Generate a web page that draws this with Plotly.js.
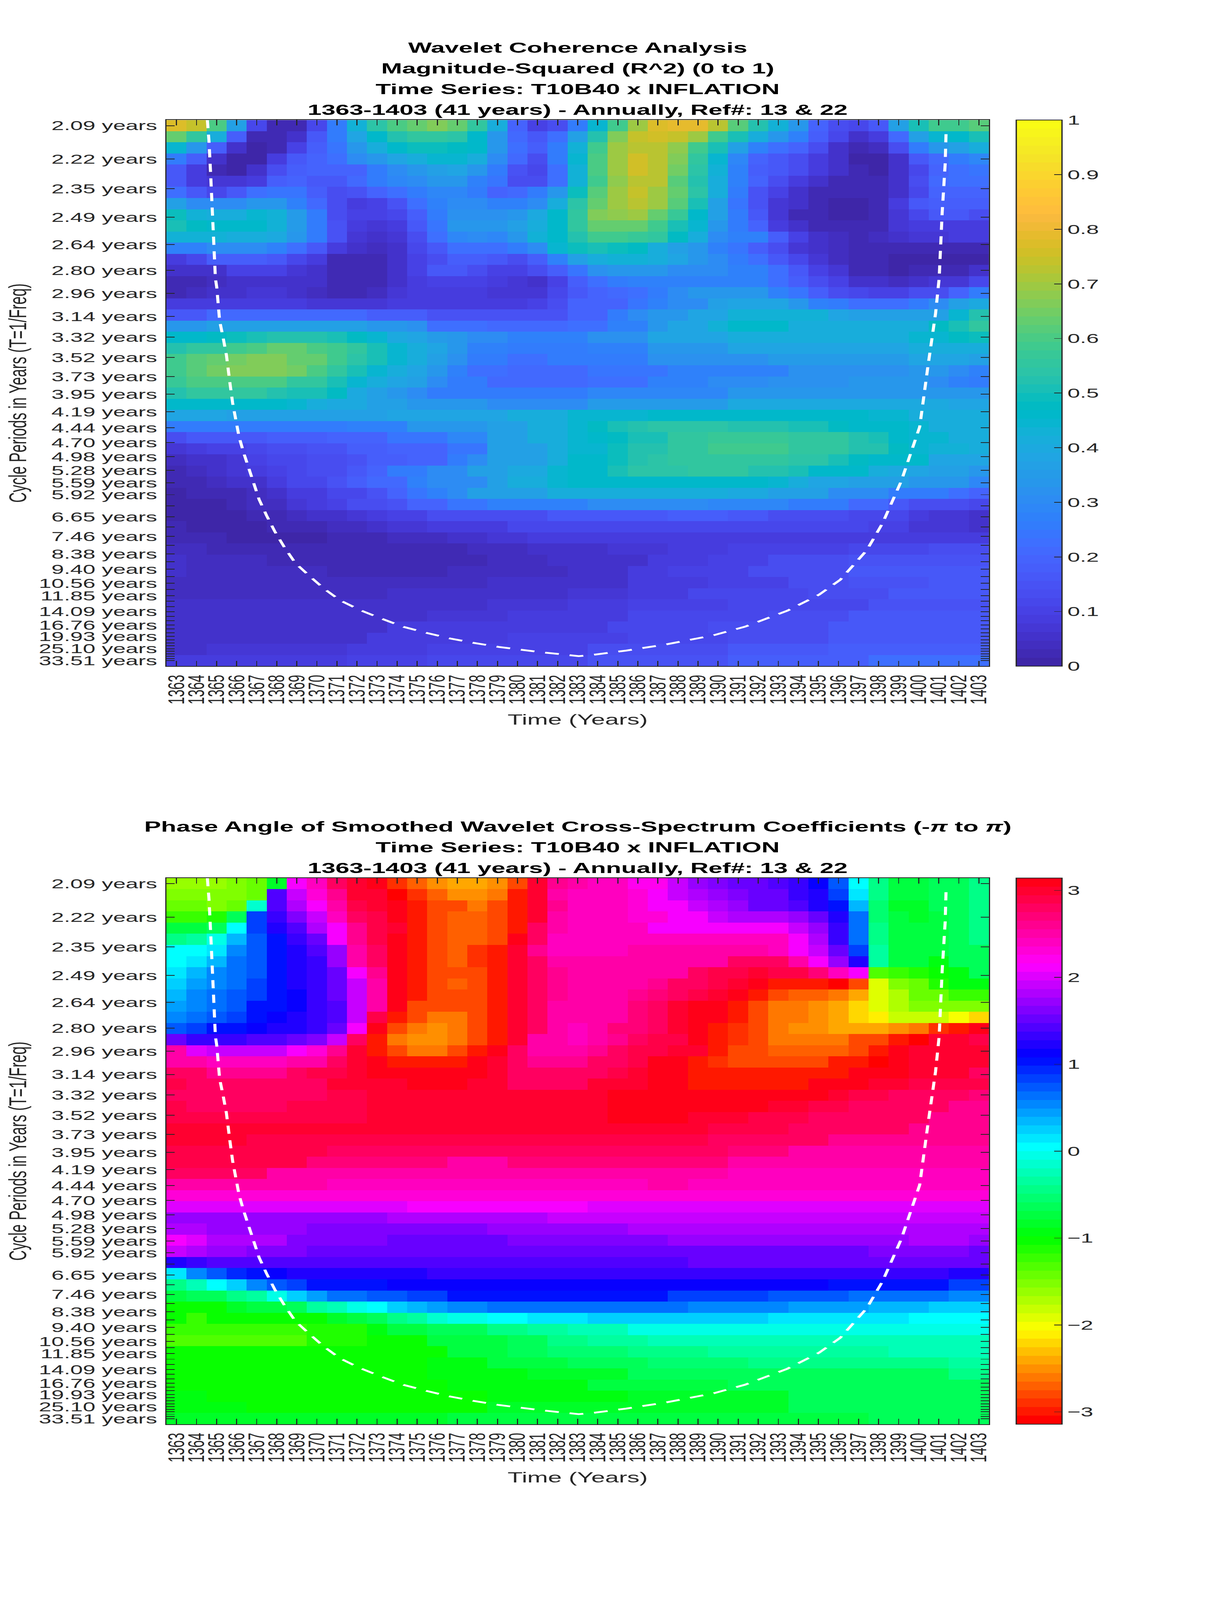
<!DOCTYPE html>
<html><head><meta charset="utf-8"><script src="https://cdn.plot.ly/plotly-3.0.1.min.js"></script>
<style>html,body{margin:0;padding:0;background:#fff;overflow:hidden}#c{width:2803px;height:6252px;transform-origin:0 0}</style></head><body><div id="c"></div>
<script>
// Chart values
const years=[1363,1364,1365,1366,1367,1368,1369,1370,1371,1372,1373,1374,1375,1376,1377,1378,1379,1380,1381,1382,1383,1384,1385,1386,1387,1388,1389,1390,1391,1392,1393,1394,1395,1396,1397,1398,1399,1400,1401,1402,1403];
const periods=[2.09,2.22,2.35,2.49,2.64,2.80,2.96,3.14,3.32,3.52,3.73,3.95,4.19,4.44,4.70,4.98,5.28,5.59,5.92,6.27,6.65,7.04,7.46,7.91,8.38,8.88,9.40,9.96,10.56,11.19,11.85,12.55,13.30,14.09,14.93,15.82,16.76,17.76,18.81,19.93,21.12,22.37,23.70,25.10,26.60,28.18,29.86,31.63,33.51];
const unlabelledPeriods=[6.27,7.04,7.91,8.88,9.96,11.19,12.55,13.30,14.93,15.82,17.76,18.81,21.12,22.37,23.70,26.60,28.18,29.86,31.63];
// Cone of influence: year and row position along the dashed curve
const coiYear=[1364.54,1364.62,1364.70,1364.78,1364.86,1364.94,1365.01,1365.15,1365.32,1365.49,1365.67,1365.80,1365.96,1366.12,1366.35,1366.61,1366.83,1367.12,1367.49,1367.90,1368.38,1368.93,1369.63,1370.35,1371.16,1372.13,1373.18,1374.31,1375.52,1376.65,1377.78,1379.07,1381.2,1383.05,1383.71,1385.42,1387.40,1389.77,1391.34,1393.46,1395.04,1396.09,1397.41,1398.2,1399.13,1400.05,1400.45,1400.84,1401.02,1401.17,1401.32,1401.37];
const coiRow=[-0.5,1.38,4.23,7.1,10.0,13.7,14.54,17.5,18.97,20.6,23.17,24.89,26.41,27.93,29.36,30.79,32.12,33.55,34.98,36.41,37.83,39.26,40.41,41.54,42.60,43.45,44.21,44.97,45.54,46.02,46.40,46.78,47.25,47.6,47.50,47.1,46.55,45.73,44.96,43.52,42.08,40.75,38.1,35.67,31.9,27.03,21.73,16.86,13.7,7.82,3.43,0.21];
// Magnitude-squared coherence in percent: one row per period, one column per year
const coherencePct=[
[78,74,60,37,11,2,3,11,25,43,54,60,63,66,64,55,42,20,10,13,25,45,59,70,77,79,79,72,61,52,43,34,20,13,11,16,36,51,58,59,61],
[63,55,42,18,3,2,6,16,25,38,46,52,55,55,54,46,34,21,17,22,37,53,67,74,75,74,69,59,50,41,34,27,18,11,5,9,21,36,45,46,50],
[45,34,18,5,1,3,10,18,24,34,41,46,49,49,47,46,34,22,18,26,43,58,70,73,73,68,59,50,37,27,22,20,13,6,2,4,13,26,33,37,41],
[26,18,6,1,1,9,16,20,23,30,34,39,42,44,44,41,31,21,14,25,44,60,70,76,73,67,55,44,29,20,17,14,9,5,1,1,6,16,21,26,29],
[17,9,3,1,5,13,18,20,20,20,25,31,34,37,38,34,25,15,12,22,43,60,70,76,72,65,54,43,27,18,16,13,9,5,2,1,5,12,19,23,24],
[16,9,7,7,9,18,20,16,17,21,25,29,31,34,34,28,24,13,13,23,43,58,68,73,72,62,53,42,28,20,14,9,6,3,2,2,5,13,21,22,22],
[22,17,12,17,22,24,24,18,13,15,19,23,26,29,29,26,20,21,25,34,49,61,70,74,70,63,54,41,25,15,10,6,3,2,2,2,5,12,19,19,19],
[37,30,31,30,33,34,28,21,13,9,10,15,22,28,31,31,28,27,30,42,54,63,70,72,69,61,50,37,24,15,7,5,2,1,1,3,9,17,18,18,18],
[49,43,42,42,44,43,35,25,14,10,10,12,18,25,32,32,32,34,40,46,56,66,68,69,63,57,46,37,25,17,7,3,2,1,1,3,7,12,17,17,14],
[51,47,46,46,46,43,35,25,15,9,7,9,17,24,33,34,33,37,41,46,56,63,64,64,58,51,44,34,25,19,9,6,3,2,2,3,7,9,9,9,9],
[43,43,43,42,42,40,33,25,15,7,6,7,14,22,29,31,29,33,43,46,53,58,58,57,55,48,41,31,28,27,18,10,6,4,3,4,5,7,7,9,9],
[28,28,30,30,31,28,22,17,9,5,4,6,12,17,22,23,22,25,30,44,49,50,49,47,42,37,33,28,24,18,13,7,5,4,3,3,3,3,3,2,2],
[9,12,18,18,18,16,12,8,3,2,2,5,10,14,18,18,16,14,18,27,36,42,43,43,42,39,34,30,25,23,17,12,7,4,2,2,1,1,1,1,1],
[5,5,6,10,10,10,7,5,2,2,2,5,10,16,16,13,10,10,13,18,24,32,33,33,33,30,30,30,27,27,23,17,10,7,3,3,1,2,2,2,5],
[3,3,4,6,6,6,5,5,2,2,3,5,8,10,10,10,8,7,6,10,18,23,25,27,28,28,28,28,28,28,23,18,14,10,6,5,4,5,7,7,12],
[3,4,5,5,7,7,5,4,3,3,4,7,8,9,9,8,7,7,7,12,17,20,21,23,26,31,33,34,34,33,27,24,18,13,12,10,10,13,14,19,26],
[8,8,8,9,9,9,9,7,7,7,7,9,9,9,9,9,9,9,10,13,19,19,19,24,27,30,30,36,39,39,39,33,28,25,23,23,22,25,31,36,40],
[17,17,21,21,21,21,21,21,21,21,18,18,18,15,15,15,15,15,15,15,20,20,25,30,33,33,38,38,43,43,43,43,43,38,36,36,36,37,37,45,52],
[33,34,36,36,37,37,37,37,37,37,34,34,32,23,23,23,21,21,21,21,23,23,28,28,33,38,38,43,46,46,46,42,41,41,41,42,42,42,47,50,55],
[46,46,48,49,50,53,53,52,50,47,45,40,38,35,33,30,30,27,27,27,27,32,32,32,38,38,38,38,42,42,42,42,42,42,42,42,42,45,45,47,49],
[53,55,56,58,60,63,63,60,58,55,50,44,41,38,33,27,27,25,25,25,25,28,28,28,33,33,33,33,38,38,38,38,38,38,38,38,38,41,41,41,41],
[59,61,63,65,67,67,63,63,58,54,50,45,41,36,32,25,25,23,23,26,26,26,26,26,32,32,32,32,32,32,35,35,35,35,35,35,35,38,38,38,36],
[59,61,65,66,67,67,65,60,56,50,45,41,38,34,28,23,23,21,21,21,21,24,24,24,24,28,28,28,28,28,28,32,32,32,32,32,32,33,33,30,28],
[57,60,60,60,60,60,55,55,51,45,42,38,36,31,25,25,21,21,21,21,21,23,23,23,27,27,27,30,30,30,32,32,32,32,33,33,33,33,31,28,25],
[52,55,55,55,55,52,50,50,47,40,37,34,30,26,26,26,26,26,26,26,26,29,29,29,29,29,29,29,33,33,33,33,33,33,33,33,33,33,33,33,33],
[46,46,46,46,46,46,44,42,40,40,36,36,33,33,33,33,30,30,30,30,30,35,35,35,35,35,35,35,40,40,40,40,40,40,40,40,40,40,40,38,38],
[39,39,39,36,36,36,36,37,37,37,37,38,38,38,38,38,38,41,41,41,44,44,44,44,46,46,46,46,46,46,46,46,46,46,46,44,44,42,42,42,42],
[25,25,25,25,25,25,25,25,25,28,28,28,33,33,33,33,37,37,42,42,45,47,50,52,54,54,54,54,53,53,53,50,50,48,46,46,46,45,42,42,42],
[13,17,17,17,17,18,18,18,20,20,20,24,24,24,29,29,36,36,41,41,45,46,48,50,50,55,55,57,57,57,57,55,55,55,52,50,46,45,44,41,41],
[7,9,10,10,12,13,13,15,15,18,18,20,20,20,24,24,36,36,36,41,45,45,49,52,52,55,55,58,58,58,58,55,55,55,52,52,47,45,43,43,41],
[4,5,6,7,10,11,12,14,14,15,18,18,20,20,25,30,36,36,36,41,46,46,49,53,54,55,55,55,55,55,55,54,54,50,48,46,46,46,39,39,39],
[3,4,5,7,9,10,12,14,14,16,20,25,25,31,31,36,36,40,40,44,46,46,50,54,54,54,55,55,55,53,53,50,46,46,46,41,40,39,36,36,33],
[2,3,4,6,6,8,11,12,15,18,21,21,27,31,31,31,37,41,41,44,46,46,46,46,46,46,46,46,46,46,44,41,38,38,36,36,36,33,33,33,29],
[1,2,2,3,4,6,9,9,11,12,15,20,24,27,31,36,36,36,36,41,41,41,41,41,41,41,41,41,40,40,36,36,36,31,31,31,25,25,25,22,19],
[1,1,1,3,4,4,7,9,10,13,13,15,19,19,24,24,28,28,28,28,28,31,31,31,31,31,31,29,29,29,29,25,25,25,21,21,16,13,13,13,11],
[1,1,1,1,2,3,4,5,6,7,9,10,10,13,13,13,13,14,14,17,17,17,17,17,17,18,18,18,17,17,13,13,13,13,11,11,11,9,7,7,5],
[2,1,1,1,1,2,3,3,4,4,5,7,7,8,8,9,9,11,11,11,12,12,12,12,12,12,12,12,12,12,12,12,12,12,12,10,10,7,7,7,5],
[3,3,3,1,1,1,1,1,3,3,3,4,4,4,5,5,7,7,8,8,8,8,8,9,9,9,9,9,9,9,9,9,9,9,9,9,9,9,9,9,9],
[4,4,3,3,3,3,2,2,2,2,2,3,3,3,3,4,4,4,5,5,6,6,7,7,7,9,9,9,10,10,10,10,10,10,12,12,12,12,13,13,13],
[5,4,4,4,4,3,3,3,3,3,3,3,3,3,3,3,4,4,4,5,5,6,6,6,8,8,8,10,10,10,13,13,13,13,15,15,15,15,15,15,15],
[5,4,4,4,4,4,4,4,3,3,3,3,3,3,4,4,4,4,4,4,5,6,6,8,8,10,10,10,10,13,13,13,13,13,16,16,16,16,16,16,16],
[4,4,4,4,4,4,4,4,4,4,4,4,4,4,4,4,5,5,5,6,6,6,6,9,9,9,9,10,10,10,10,13,13,13,15,15,15,15,17,17,17],
[4,4,4,4,4,4,4,4,4,4,4,5,5,5,5,5,5,6,6,6,7,7,7,9,9,9,11,11,11,11,11,11,14,14,14,14,16,16,16,16,16],
[5,5,5,5,5,5,5,5,5,5,5,5,6,6,6,6,7,7,7,7,8,8,8,10,10,10,10,10,12,12,12,12,12,12,12,15,15,15,15,15,15],
[5,5,5,5,5,5,5,5,6,6,6,6,6,7,7,7,7,8,8,8,9,9,9,11,11,11,12,12,12,12,13,13,13,13,16,16,16,16,16,16,16],
[5,5,5,5,5,5,6,6,6,6,6,8,8,8,8,8,8,8,9,9,9,9,11,11,11,11,11,13,13,13,13,13,13,16,16,16,16,16,16,16,16],
[5,5,5,5,5,6,6,6,6,6,8,8,8,8,8,8,8,10,10,10,10,10,10,12,12,12,12,12,14,14,14,14,14,17,17,17,17,17,17,17,17],
[6,6,7,7,7,7,7,7,7,9,9,9,9,10,10,10,10,10,10,10,10,13,13,13,13,13,13,13,16,16,16,16,16,18,18,18,18,18,18,18,18],
[8,8,8,8,9,9,9,9,9,10,10,10,10,12,12,12,12,12,12,12,12,15,15,15,15,15,15,15,18,18,18,18,18,18,18,22,22,22,22,22,22]
];
// Phase angle in hundredths of a radian: one row per period, one column per year
const phaseCentirad=[
[-160,-160,-160,-148,-140,-87,209,244,279,297,314,-293,-272,-253,-244,-244,-251,-279,295,262,255,237,237,218,218,192,175,163,155,155,140,129,113,72,3,-49,-77,-77,-59,-59,-40],
[-150,-150,-157,-148,-138,145,190,230,262,295,300,-305,-286,-270,-255,-255,-265,-300,295,248,241,241,241,229,209,196,184,169,161,150,150,135,122,81,19,-49,-77,-77,-66,-66,-46],
[-145,-145,-150,-140,-12,145,184,209,255,288,295,314,-295,-276,-276,-262,-276,-300,295,262,241,241,241,232,209,209,190,180,168,157,157,145,125,105,38,-52,-85,-85,-66,-66,-49],
[-122,-122,-112,-66,84,131,161,190,236,281,288,314,-295,-281,-268,-268,-281,-300,295,255,241,241,241,229,229,209,209,190,184,184,184,175,150,125,60,-52,-77,-85,-77,-66,-49],
[-77,-77,-59,9,81,125,145,184,209,262,288,300,-300,-281,-268,-268,-281,-300,281,248,238,238,238,238,215,215,209,209,209,209,209,196,175,131,67,-49,-77,-77,-77,-66,-49],
[-46,-35,-8,38,72,105,128,157,209,262,288,314,-295,-281,-268,-268,-284,305,275,245,245,245,245,245,245,245,236,236,236,236,236,209,184,137,67,-49,-77,-77,-77,-66,-46],
[0,0,19,52,72,105,122,142,175,248,281,305,-295,-281,-268,-288,-300,300,262,241,241,241,241,248,248,248,248,248,248,248,236,215,190,154,84,-33,-70,-70,-77,-66,-66],
[3,19,38,60,72,100,118,131,169,248,281,305,-295,-281,-268,-288,-300,300,275,248,248,248,248,248,248,255,255,255,275,275,275,248,209,169,118,-33,-77,-77,-95,-66,-66],
[19,32,52,65,72,100,118,131,157,209,262,305,-295,-281,-281,-281,-300,300,275,262,248,248,248,248,255,255,275,288,288,295,288,288,268,236,215,-131,-122,-112,-100,-95,-66],
[29,42,52,67,84,100,118,134,154,196,255,305,-295,-281,-268,-281,-300,300,275,262,248,248,248,255,262,275,281,288,300,314,-303,-303,-303,-314,-281,-195,-150,-138,-112,-95,-95],
[32,52,60,78,84,105,115,128,150,193,255,305,-295,-276,-276,-281,-300,300,275,262,248,248,248,262,268,281,288,295,314,-295,-281,-268,-268,-258,-244,-195,-172,-145,-138,-125,-118],
[42,52,67,78,100,105,115,128,147,193,255,314,-281,-276,-276,-281,-300,300,275,255,255,255,255,268,275,295,305,310,-300,-281,-265,-262,-248,-241,-220,-195,-172,-157,-150,-150,-150],
[52,65,72,84,105,112,118,128,145,187,288,-295,-276,-265,-265,-276,-295,300,281,255,255,255,255,268,275,295,305,314,-295,-281,-265,-258,-248,-241,-220,-209,-186,-178,-186,-201,-222],
[72,84,100,105,112,118,118,131,157,209,305,-276,-265,-255,-265,-276,-295,300,275,255,245,255,268,268,275,295,305,-300,-292,-281,-265,-255,-255,-245,-245,-245,-255,-265,-288,-300,314],
[154,137,131,131,142,142,150,166,196,275,-295,-262,-255,-255,-265,-276,-300,295,255,248,241,248,262,275,288,288,314,-300,-292,-281,-265,-265,-265,-265,-276,-284,-300,-314,300,300,288],
[248,203,190,190,190,190,209,229,262,300,-303,-276,-262,-262,-276,-295,314,281,255,255,255,262,275,288,288,300,300,-295,-281,-281,-271,-271,-271,-271,-284,-295,314,300,300,295,295],
[255,248,236,236,236,236,248,255,281,300,314,-303,-295,-295,-303,314,300,275,262,262,262,275,281,288,314,314,-300,-292,-284,-284,-284,-284,-284,-298,-298,-308,314,300,300,295,295],
[275,275,262,262,262,262,275,288,288,300,305,305,314,314,314,310,295,281,275,275,275,275,288,300,308,314,-300,-295,-295,-295,-295,-295,-295,-303,314,314,308,295,295,295,281],
[288,275,275,275,275,275,281,281,295,295,300,300,311,311,311,300,300,281,281,281,281,295,295,300,314,314,-303,-303,-303,-303,-303,-303,314,314,308,295,295,288,288,288,288],
[281,281,281,281,281,281,281,281,288,288,295,295,295,295,295,295,295,295,295,295,295,295,305,305,305,314,314,314,314,314,314,305,305,300,288,288,281,281,281,281,268],
[288,275,275,275,275,275,288,288,288,288,295,295,295,295,295,295,295,295,295,295,295,295,305,305,305,305,305,305,305,305,295,295,288,288,275,275,275,275,275,262,262],
[288,288,288,288,288,288,288,288,288,288,295,295,295,295,295,295,295,295,295,295,295,295,305,305,305,305,295,295,295,288,288,288,275,275,275,275,275,275,262,262,262],
[295,295,295,295,295,295,295,295,295,295,295,295,295,295,295,295,295,295,295,295,295,295,295,295,295,295,295,288,288,288,288,281,281,281,275,275,275,262,262,262,262],
[298,298,298,298,288,288,288,288,288,288,288,288,288,288,288,288,288,288,288,288,288,288,288,288,288,288,288,281,281,281,275,275,275,262,262,262,262,262,262,262,262],
[288,288,288,288,288,288,288,288,275,275,275,275,275,275,275,275,275,275,275,275,275,275,275,275,275,275,275,275,268,268,268,255,255,255,255,255,255,255,255,255,255],
[285,285,285,285,285,285,285,268,268,268,268,268,268,268,255,255,255,268,268,268,268,268,268,268,268,268,268,268,255,255,255,255,255,255,248,248,248,248,248,248,248],
[275,275,275,275,275,255,255,255,255,255,255,255,248,248,248,248,248,248,248,248,255,255,255,255,255,255,255,255,245,245,245,245,245,245,245,245,245,245,245,245,245],
[255,255,255,255,255,255,255,255,241,241,241,241,241,241,241,241,241,241,241,241,241,241,241,241,255,255,241,241,241,241,241,241,241,241,241,241,241,241,241,241,241],
[232,232,232,232,232,232,232,232,232,232,232,232,232,232,232,232,232,232,232,232,232,232,232,232,232,232,232,232,232,232,232,232,232,232,232,232,232,232,232,232,232],
[198,198,198,198,198,198,198,198,198,198,198,198,209,209,209,209,209,209,209,209,209,206,206,206,206,206,206,206,206,206,206,206,206,206,206,206,206,206,206,206,206],
[174,174,174,174,174,174,174,174,174,174,174,184,184,184,184,184,184,184,184,193,193,193,193,193,193,193,193,193,193,193,193,193,193,193,193,193,193,193,193,193,193],
[178,178,169,169,169,169,169,163,163,163,163,163,163,163,163,163,169,169,169,169,169,169,169,181,181,181,181,181,181,181,181,181,181,181,181,181,181,181,181,181,181],
[209,198,181,181,181,181,163,163,163,163,163,154,154,154,154,154,154,163,163,163,163,163,163,163,163,174,174,174,174,174,174,174,174,174,174,174,174,181,181,181,169],
[196,184,169,169,163,163,163,150,150,150,150,150,150,150,150,150,150,150,150,150,150,150,150,150,150,150,157,157,157,157,157,157,157,157,157,163,163,163,163,163,157],
[118,128,142,142,142,142,142,142,142,142,142,142,142,142,142,142,142,142,142,142,142,142,142,142,142,142,150,150,150,150,150,150,150,150,150,150,150,150,150,150,150],
[15,52,78,96,105,112,122,122,122,122,122,122,122,128,128,128,128,128,128,128,128,128,128,128,128,128,128,128,128,128,128,128,128,128,128,128,128,128,128,122,122],
[-49,-26,0,23,52,72,88,105,105,105,105,110,110,110,110,110,110,110,110,110,110,110,110,110,110,110,110,110,110,110,110,110,110,105,105,105,105,100,100,84,84],
[-70,-66,-59,-49,-33,-8,23,42,60,67,78,78,88,88,105,105,105,105,105,105,105,105,105,105,105,88,88,88,88,88,78,78,78,78,67,60,60,60,60,52,52],
[-100,-100,-100,-85,-77,-70,-59,-38,-26,-5,7,23,32,45,52,52,62,62,62,62,62,62,62,62,62,62,52,52,52,52,52,42,42,42,42,32,32,32,23,23,23],
[-100,-118,-105,-105,-105,-105,-100,-100,-85,-70,-59,-49,-33,-15,-8,-8,0,0,10,10,10,23,23,23,23,23,23,23,23,23,10,10,10,10,10,10,10,0,0,0,0],
[-125,-125,-125,-125,-125,-125,-125,-112,-112,-112,-95,-70,-70,-59,-59,-59,-45,-45,-33,-33,-24,-24,-24,-8,-8,-8,-8,-8,-8,-8,-8,-8,-8,-8,-8,-8,-8,-8,-8,-8,-8],
[-128,-128,-128,-128,-128,-128,-128,-112,-112,-112,-100,-100,-100,-77,-77,-77,-77,-59,-59,-45,-45,-33,-33,-33,-29,-29,-29,-29,-29,-29,-29,-20,-20,-20,-20,-20,-20,-20,-20,-20,-20],
[-105,-105,-105,-105,-105,-105,-105,-105,-105,-105,-105,-105,-100,-100,-77,-77,-77,-66,-66,-52,-52,-52,-52,-45,-45,-45,-45,-38,-38,-38,-38,-38,-38,-38,-38,-38,-29,-29,-29,-29,-29],
[-100,-100,-105,-105,-105,-105,-105,-105,-105,-105,-105,-105,-105,-95,-95,-95,-77,-77,-77,-77,-66,-66,-66,-66,-52,-52,-52,-52,-52,-45,-45,-45,-45,-45,-45,-45,-45,-45,-45,-38,-38],
[-102,-102,-102,-102,-102,-102,-102,-102,-102,-102,-102,-102,-102,-95,-95,-95,-95,-95,-85,-85,-85,-85,-85,-66,-66,-66,-66,-66,-66,-66,-59,-59,-59,-59,-59,-59,-59,-59,-59,-49,-49],
[-100,-100,-100,-100,-100,-100,-100,-100,-100,-100,-100,-100,-100,-100,-90,-90,-90,-90,-90,-90,-90,-77,-77,-77,-77,-77,-77,-77,-66,-66,-66,-66,-66,-66,-66,-66,-66,-66,-66,-66,-66],
[-96,-96,-102,-102,-102,-102,-102,-102,-102,-102,-102,-102,-102,-102,-102,-102,-92,-92,-92,-92,-92,-92,-92,-80,-80,-80,-80,-80,-80,-80,-80,-68,-68,-68,-68,-68,-68,-68,-68,-68,-68],
[-92,-92,-92,-92,-100,-100,-100,-100,-100,-100,-100,-100,-100,-100,-100,-100,-88,-88,-88,-88,-88,-88,-88,-88,-80,-80,-80,-80,-80,-80,-80,-68,-68,-68,-68,-68,-68,-68,-68,-68,-68],
[-80,-80,-80,-80,-80,-80,-80,-80,-80,-85,-85,-85,-85,-85,-78,-78,-78,-78,-78,-78,-78,-78,-78,-78,-78,-78,-74,-74,-74,-74,-74,-74,-74,-74,-74,-68,-68,-68,-68,-68,-68]
];
const coherenceTicks=[0,0.1,0.2,0.3,0.4,0.5,0.6,0.7,0.8,0.9,1];
const phaseTicks=[-3,-2,-1,0,1,2,3];
const titleA=['Wavelet Coherence Analysis','Magnitude-Squared (R^2) (0 to 1)','Time Series: T10B40 x INFLATION','1363-1403 (41 years) - Annually, Ref#: 13 & 22'];
const titleB=['Phase Angle of Smoothed Wavelet Cross-Spectrum Coefficients (-<i>π</i> to <i>π</i>)','Time Series: T10B40 x INFLATION','1363-1403 (41 years) - Annually, Ref#: 13 & 22'];

// Page geometry. The chart is laid out at the reference's size and fitted to the window it actually gets.
const VW=2803,W=3125,H=6252,S=W/VW;
const VH=Math.min(window.innerHeight||H,H),SY=VH/H;
document.documentElement.style.width=document.body.style.width=W+'px';
document.documentElement.style.height=document.body.style.height=VH+'px';
document.getElementById('c').style.transform='scale('+S+','+SY+')';

const rowIdx=periods.map((_,i)=>i);
const f0=1/periods[0],fN=1/periods[periods.length-1];
const tickRow=periods.map(p=>(periods.length-1)*(f0-1/p)/(f0-fN));
const tickTxt=periods.map(p=>unlabelledPeriods.includes(p)?'':p.toFixed(2)+' years');
const parula=[[.2422,.1504,.6603],[.2504,.1650,.7076],[.2578,.1818,.7511],[.2647,.1978,.7952],[.2706,.2147,.8364],[.2751,.2342,.8710],[.2783,.2559,.8991],[.2803,.2782,.9221],[.2813,.3006,.9414],[.2810,.3228,.9579],[.2795,.3447,.9717],[.2760,.3667,.9829],[.2699,.3892,.9906],[.2602,.4123,.9952],[.2440,.4358,.9988],[.2206,.4603,.9973],[.1963,.4847,.9892],[.1834,.5074,.9798],[.1786,.5289,.9682],[.1764,.5499,.9520],[.1687,.5703,.9359],[.1540,.5902,.9218],[.1460,.6091,.9079],[.1380,.6276,.8973],[.1248,.6459,.8883],[.1113,.6635,.8763],[.0952,.6798,.8598],[.0689,.6948,.8394],[.0297,.7082,.8163],[.0036,.7203,.7917],[.0067,.7312,.7660],[.0433,.7411,.7394],[.0964,.7500,.7120],[.1408,.7584,.6842],[.1717,.7670,.6554],[.1938,.7758,.6251],[.2161,.7843,.5923],[.2470,.7918,.5567],[.2906,.7973,.5188],[.3406,.8008,.4789],[.3909,.8029,.4354],[.4456,.8024,.3909],[.5044,.7993,.3480],[.5616,.7942,.3045],[.6174,.7876,.2612],[.6720,.7793,.2227],[.7242,.7698,.1910],[.7738,.7598,.1646],[.8203,.7498,.1535],[.8634,.7406,.1596],[.9035,.7330,.1774],[.9393,.7288,.2100],[.9728,.7298,.2394],[.9956,.7434,.2371],[.9970,.7659,.2199],[.9952,.7893,.2028],[.9892,.8136,.1885],[.9786,.8386,.1766],[.9676,.8639,.1643],[.9610,.8890,.1537],[.9597,.9135,.1423],[.9628,.9373,.1265],[.9691,.9606,.1064],[.9769,.9839,.0805]];
const rgb=c=>'rgb('+c.map(v=>Math.round(v*255)).join(',')+')';
function steps(cols){const out=[];cols.forEach((c,i)=>{out.push([i/cols.length,c]);out.push([(i+1)/cols.length,c]);});return out;}
const hsv64=[];for(let i=0;i<64;i++){const h=i/64*6,k=Math.floor(h),f=h-k;hsv64.push(rgb([[1,f,0],[1-f,1,0],[0,1,f],[0,1-f,1],[f,0,1],[1,0,1-f]][k]));}
const L=426,R=2531,CBL=2601,CBW=117;
const P1=[469,2603],P2=[3431,5565];
const FONT='"Liberation Sans",Arial,sans-serif',INK='#262626';
const dom=p=>[1-p[1]/H,1-p[0]/H];
function xax(anchor,title){return {domain:[L/W,R/W],anchor,range:[1362.5,1403.5],tickmode:'array',tickvals:years,ticktext:years.map(String),tickangle:-90,ticks:'inside',ticklen:21,tickwidth:2.5,tickcolor:INK,showline:true,mirror:'ticks',linecolor:INK,linewidth:3,showgrid:false,zeroline:false,tickfont:{family:FONT,size:52,color:INK},ticklabelstandoff:10,title:{text:title,font:{family:FONT,size:57,color:INK},standoff:40}};}
function yax(anchor,p,title){return {domain:dom(p),anchor,range:[48.5,-0.5],tickmode:'array',tickvals:tickRow,ticktext:tickTxt,ticks:'inside',ticklen:19,tickwidth:3,tickcolor:INK,showline:true,mirror:'ticks',linecolor:INK,linewidth:3,showgrid:false,zeroline:false,tickfont:{family:FONT,size:52,color:INK},ticklabelstandoff:8,title:{text:title,font:{family:FONT,size:57,color:INK},standoff:10}};}
function cb(p,extra){return Object.assign({thicknessmode:'pixels',thickness:CBW/S,lenmode:'fraction',len:(p[1]-p[0])/H,yanchor:'top',y:1-p[0]/H,xanchor:'left',x:CBL/W,xpad:0,ypad:0,outlinecolor:INK,outlinewidth:3,ticks:'inside',ticklen:19,tickwidth:2.5,tickcolor:INK,tickfont:{family:FONT,size:52,color:INK}},extra);}
const coi=(xa,ya)=>({type:'scatter',mode:'lines',x:coiYear,y:coiRow,xaxis:xa,yaxis:ya,line:{color:'#fff',width:7,dash:'32px,25px'},showlegend:false,hoverinfo:'skip'});
const data=[
{type:'heatmap',x:years,y:rowIdx,z:coherencePct.map(r=>r.map(v=>v/100)),xaxis:'x',yaxis:'y',zmin:0,zmax:1,colorscale:steps(parula.map(rgb)),hoverinfo:'skip',colorbar:cb(P1,{tickmode:'array',tickvals:coherenceTicks,ticktext:coherenceTicks.map(String)})},
coi('x','y'),
{type:'heatmap',x:years,y:rowIdx,z:phaseCentirad.map(r=>r.map(v=>v/100)),xaxis:'x2',yaxis:'y2',zmin:-Math.PI,zmax:Math.PI,colorscale:steps(hsv64),hoverinfo:'skip',colorbar:cb(P2,{tickmode:'array',tickvals:phaseTicks})},
coi('x2','y2')
];
const ann=(t,cy)=>({text:'<b>'+t+'</b>',xref:'paper',yref:'paper',x:(L+R)/2/W,y:1-cy/H,xanchor:'center',yanchor:'middle',showarrow:false,font:{family:FONT,size:57.5,color:'#000'}});
const layout={width:VW,height:H,margin:{l:0,r:0,t:0,b:0},paper_bgcolor:'#fff',plot_bgcolor:'#fff',showlegend:false,
xaxis:xax('y','Time (Years)'),yaxis:yax('x',P1,'Cycle Periods in Years (T=1/Freq)'),
xaxis2:xax('y2','Time (Years)'),yaxis2:yax('x2',P2,'Cycle Periods in Years (T=1/Freq)'),
annotations:[...titleA.map((t,i)=>ann(t,[186,267,348,428][i])),...titleB.map((t,i)=>ann(t,[3230,3310,3392][i]))]};
Plotly.newPlot('c',data,layout,{displayModeBar:false,staticPlot:true});
</script></body></html>
